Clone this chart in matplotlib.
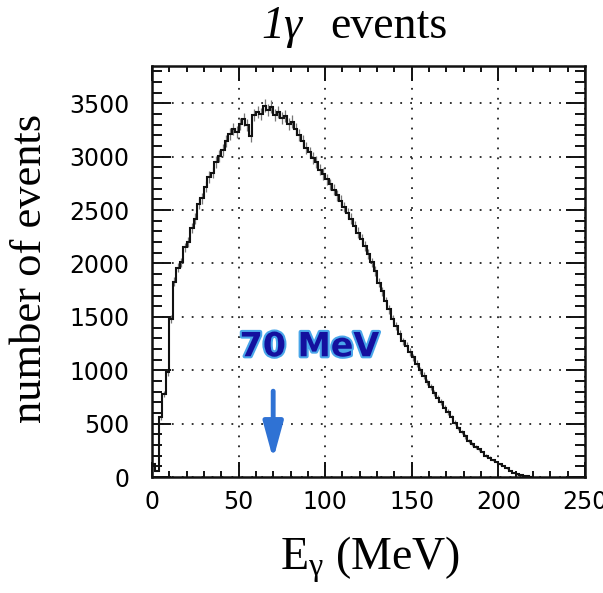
import numpy as np
import matplotlib
matplotlib.use("Agg")
import matplotlib.pyplot as plt
import matplotlib.patheffects as pe
from matplotlib.ticker import MultipleLocator

plt.rcParams['mathtext.fontset'] = 'custom'
plt.rcParams['mathtext.rm'] = 'Liberation Serif'
plt.rcParams['mathtext.it'] = 'Liberation Serif:italic'

# histogram: 2 MeV bins, counts
bin_edges = np.arange(0, 222, 2)
counts = [120, 60, 560, 780, 980, 1480, 1830, 1960, 2010, 2150,
          2200, 2330, 2420, 2560, 2610, 2720, 2810, 2850, 2950, 3010,
          3060, 3150, 3210, 3260, 3230, 3310, 3350, 3300, 3190, 3390,
          3420, 3400, 3480, 3440, 3470, 3390, 3420, 3360, 3380, 3310,
          3330, 3260, 3200, 3150, 3080, 3040, 2990, 2950, 2880, 2840,
          2790, 2740, 2690, 2640, 2590, 2530, 2470, 2420, 2350, 2290,
          2230, 2160, 2090, 2010, 1930, 1820, 1740, 1650, 1570, 1480,
          1410, 1340, 1270, 1230, 1170, 1120, 1060, 1000, 950, 890,
          840, 790, 740, 700, 650, 610, 560, 510, 460, 420,
          380, 340, 310, 280, 260, 230, 200, 180, 160, 140,
          120, 100, 80, 60, 40, 28, 18, 10, 5, 2]

note_text = "70 MeV"
note_pos = (91, 1220)
arrow_x = 70
arrow_from, arrow_to = 830, 140

fig = plt.figure(figsize=(6.03, 5.93), dpi=100)
ax = fig.add_axes([0.252, 0.1956, 0.718, 0.6931])

counts = np.array(counts, dtype=float)
centers = 0.5 * (bin_edges[:-1] + bin_edges[1:])
ax.errorbar(centers, counts, yerr=np.sqrt(counts), fmt='none',
            ecolor='#777777', elinewidth=0.9, zorder=2)
ax.stairs(counts, bin_edges, color='#111111', lw=1.5, zorder=3)

ax.set_xlim(0, 250)
ax.set_ylim(0, 3850)
ax.xaxis.set_major_locator(MultipleLocator(50))
ax.xaxis.set_minor_locator(MultipleLocator(10))
ax.yaxis.set_major_locator(MultipleLocator(500))
ax.yaxis.set_minor_locator(MultipleLocator(100))
ax.tick_params(axis='both', which='both', direction='in',
               top=True, right=True, color='#111111', width=1.4)
ax.tick_params(axis='x', which='major', length=11, pad=9, labelsize=17)
ax.tick_params(axis='x', which='minor', length=4.5)
ax.tick_params(axis='y', which='major', length=14, pad=16, labelsize=17)
ax.tick_params(axis='y', which='minor', length=7)
for s in ax.spines.values():
    s.set_linewidth(1.8)
    s.set_color('#111111')
ax.grid(True, which='major', color='#222222', lw=1.3, linestyle=(0, (1, 4.5)))

# texts
fig.text(302 / 603, 1 - 38 / 593, "1γ", ha='right', va='baseline',
         fontsize=33, family='Liberation Serif', fontstyle='italic')
fig.text(330 / 603, 1 - 38 / 593, "events", ha='left', va='baseline',
         fontsize=33, family='Liberation Serif')
ax.set_ylabel("number of events", fontsize=32, family='Liberation Serif')
ax.yaxis.set_label_coords(-0.236, 0.508)
ax.set_xlabel(r"E$_{\mathrm{\gamma}}$ (MeV)", fontsize=33, family='Liberation Serif')
ax.xaxis.set_label_coords(0.503, -0.14)

# hand-drawn note
ax.text(note_pos[0], note_pos[1], note_text, ha='center', va='center',
        fontsize=24, fontweight='bold', color='#14109e',
        path_effects=[pe.withStroke(linewidth=3, foreground='#4aa6ea')])
ax.annotate("", xy=(arrow_x, arrow_to), xytext=(arrow_x, arrow_from),
            arrowprops=dict(arrowstyle='-|>,head_width=0.6,head_length=2.2',
                            color='#2f72d4', lw=3.5))

fig.savefig("out.png", dpi=100)
